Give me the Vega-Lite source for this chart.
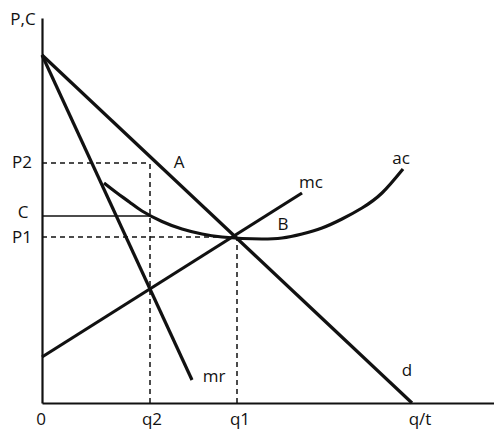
{
  "$schema": "https://vega.github.io/schema/vega-lite/v6.json",
  "width": 452,
  "height": 385,
  "autosize": {"type": "none"},
  "padding": {"left": 42, "top": 18, "right": 0, "bottom": 27},
  "background": "white",
  "config": {"view": {"stroke": null}},
  "datasets": {
    "curves": [
      {"series": "d", "q": 0, "p": 348},
      {"series": "d", "q": 370, "p": 0},
      {"series": "mr", "q": 0, "p": 348},
      {"series": "mr", "q": 150, "p": 23},
      {"series": "mc", "q": 0, "p": 46},
      {"series": "mc", "q": 260, "p": 210},
      {"series": "ac", "q": 62, "p": 220},
      {"series": "ac", "q": 75, "p": 210},
      {"series": "ac", "q": 88, "p": 200.5},
      {"series": "ac", "q": 100, "p": 192},
      {"series": "ac", "q": 120, "p": 181.5},
      {"series": "ac", "q": 140, "p": 174},
      {"series": "ac", "q": 160, "p": 169},
      {"series": "ac", "q": 180, "p": 166},
      {"series": "ac", "q": 200, "p": 164.5},
      {"series": "ac", "q": 220, "p": 164},
      {"series": "ac", "q": 240, "p": 165},
      {"series": "ac", "q": 260, "p": 169},
      {"series": "ac", "q": 280, "p": 175},
      {"series": "ac", "q": 300, "p": 184},
      {"series": "ac", "q": 320, "p": 195},
      {"series": "ac", "q": 340, "p": 210},
      {"series": "ac", "q": 361, "p": 234}
    ],
    "dashed": [
      {"q": 0, "q2": 108, "p": 240, "p2": 240},
      {"q": 108, "q2": 108, "p": 0, "p2": 240},
      {"q": 0, "q2": 195, "p": 166, "p2": 166},
      {"q": 195, "q2": 195, "p": 0, "p2": 166}
    ],
    "solid": [
      {"q": 0, "q2": 108, "p": 187, "p2": 187}
    ],
    "labels": [
      {"label": "P,C", "q": -19, "p": 383},
      {"label": "P2", "q": -20, "p": 240},
      {"label": "C", "q": -19, "p": 190},
      {"label": "P1", "q": -20, "p": 165},
      {"label": "0", "q": -1, "p": -17},
      {"label": "q2", "q": 110, "p": -17},
      {"label": "q1", "q": 198, "p": -17},
      {"label": "q/t", "q": 378, "p": -17},
      {"label": "A", "q": 137, "p": 240},
      {"label": "B", "q": 241, "p": 178},
      {"label": "mc", "q": 269, "p": 220},
      {"label": "ac", "q": 359, "p": 244},
      {"label": "mr", "q": 172, "p": 26},
      {"label": "d", "q": 365, "p": 32}
    ]
  },
  "layer": [
    {
      "data": {"name": "dashed"},
      "mark": {"type": "rule", "color": "#111", "strokeWidth": 1.5, "strokeDash": [5, 4]},
      "encoding": {
        "x": {"field": "q", "type": "quantitative", "scale": {"domain": [0, 452], "nice": false, "zero": false},
              "axis": {"domain": true, "domainColor": "#111", "domainWidth": 2.2, "ticks": false, "labels": false, "grid": false, "title": null}},
        "x2": {"field": "q2"},
        "y": {"field": "p", "type": "quantitative", "scale": {"domain": [0, 385], "nice": false, "zero": false},
              "axis": {"domain": true, "domainColor": "#111", "domainWidth": 2.2, "ticks": false, "labels": false, "grid": false, "title": null}},
        "y2": {"field": "p2"}
      }
    },
    {
      "data": {"name": "solid"},
      "mark": {"type": "rule", "color": "#111", "strokeWidth": 1.6},
      "encoding": {
        "x": {"field": "q", "type": "quantitative"},
        "x2": {"field": "q2"},
        "y": {"field": "p", "type": "quantitative"},
        "y2": {"field": "p2"}
      }
    },
    {
      "data": {"name": "curves"},
      "mark": {"type": "line", "color": "#111", "strokeWidth": 3.2, "interpolate": "natural"},
      "encoding": {
        "x": {"field": "q", "type": "quantitative"},
        "y": {"field": "p", "type": "quantitative"},
        "detail": {"field": "series"}
      }
    },
    {
      "data": {"name": "labels"},
      "mark": {"type": "text", "font": "Open Sans", "fontSize": 17, "color": "#111", "align": "center", "baseline": "middle"},
      "encoding": {
        "x": {"field": "q", "type": "quantitative"},
        "y": {"field": "p", "type": "quantitative"},
        "text": {"field": "label"}
      }
    }
  ]
}
